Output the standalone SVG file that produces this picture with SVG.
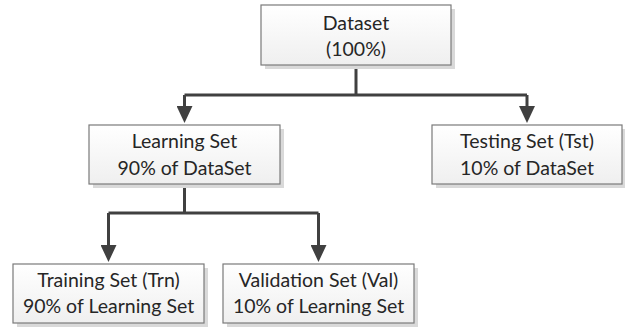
<svg xmlns="http://www.w3.org/2000/svg" width="625" height="329" viewBox="0 0 625 329">
<style>
.shadow{fill:#d9d9d9}
.box{fill:url(#g);stroke:#7a7a7a;stroke-width:1.2}
.t{font-family:Lato,"Open Sans","Liberation Sans",sans-serif;font-size:19.5px;fill:#262626;text-anchor:middle}
.c{fill:none;stroke:#404040;stroke-width:3}
.a{fill:none;stroke:#404040;stroke-width:3;marker-end:url(#ah)}
</style>
<defs>
<linearGradient id="g" x1="0" y1="0" x2="0" y2="1">
<stop offset="0" stop-color="#ffffff"/>
<stop offset="1" stop-color="#efefef"/>
</linearGradient>
<marker id="ah" viewBox="0 0 17 16" refX="11" refY="8" markerWidth="17" markerHeight="16" markerUnits="userSpaceOnUse" orient="auto">
<path d="M0,0 L17,8 L0,16 Z" fill="#404040"/>
</marker>
</defs>
<g id="connectors">
<path class="c" d="M356,65 V95"/>
<path class="c" d="M184.5,95 H527"/>
<path class="a" d="M184.5,95 V117"/>
<path class="a" d="M527,95 V117"/>
<path class="c" d="M184.5,184 V213"/>
<path class="c" d="M108.5,213 H318.5"/>
<path class="a" d="M108.5,213 V256"/>
<path class="a" d="M318.5,213 V256"/>
</g>
<g id="dataset">
<rect class="shadow" x="265" y="9" width="190" height="60"/>
<rect class="box" x="261" y="5" width="190" height="60"/>
<text class="t" x="356" y="30">Dataset</text>
<text class="t" x="356" y="56">(100%)</text>
</g>
<g id="learning">
<rect class="shadow" x="93" y="129" width="191" height="59"/>
<rect class="box" x="89" y="125" width="191" height="59"/>
<text class="t" x="184.5" y="148">Learning Set</text>
<text class="t" x="184.5" y="175">90% of DataSet</text>
</g>
<g id="testing">
<rect class="shadow" x="436" y="129" width="190" height="59"/>
<rect class="box" x="432" y="125" width="190" height="59"/>
<text class="t" x="527" y="148">Testing Set (Tst)</text>
<text class="t" x="527" y="175">10% of DataSet</text>
</g>
<g id="training">
<rect class="shadow" x="17" y="268" width="191" height="59"/>
<rect class="box" x="13" y="264" width="191" height="59"/>
<text class="t" x="108.5" y="287">Training Set (Trn)</text>
<text class="t" x="108.5" y="313">90% of Learning Set</text>
</g>
<g id="validation">
<rect class="shadow" x="227" y="268" width="191" height="59"/>
<rect class="box" x="223" y="264" width="191" height="59"/>
<text class="t" x="318.5" y="287">Validation Set (Val)</text>
<text class="t" x="318.5" y="313">10% of Learning Set</text>
</g>
</svg>
